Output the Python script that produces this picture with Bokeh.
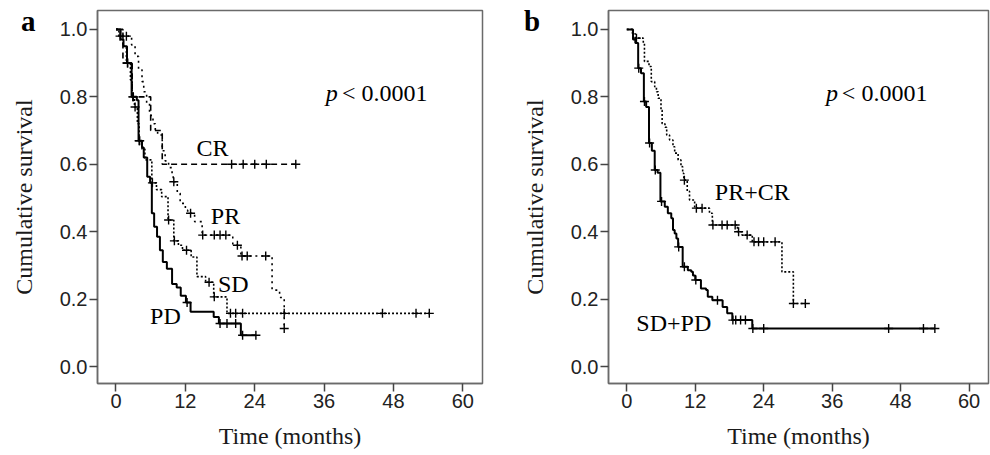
import numpy as np
from bokeh.plotting import figure
from bokeh.layouts import row
from bokeh.models import Label, FixedTicker, NumeralTickFormatter, Range1d, Div
from bokeh.embed import file_html
from bokeh.resources import INLINE

x_ticks = [0, 12, 24, 36, 48, 60]
y_ticks = [0.0, 0.2, 0.4, 0.6, 0.8, 1.0]
x_label = "Time (months)"
y_label = "Cumulative survival"
p_text = "< 0.0001"
panel_letters = ["a", "b"]

# ---------------- Panel a ----------------
cr_t = [0, 1.2, 2.8, 6.0, 8.0, 31.1]
cr_s = [1.0, 0.9, 0.8, 0.7, 0.6, 0.6]
cr_c = [20.0, 22.0, 24.0, 26.0, 31.1]

pr_t = [0, 1.2, 2.7, 3.3, 3.9, 4.5, 4.8, 5.3, 5.8, 6.4, 6.8, 7.2, 8.0, 8.5, 9.1, 9.7,
        9.9, 10.6, 11.1, 12.0, 12.4, 13.6, 14.9, 20.2, 21.6, 27.0, 28.3, 29.1, 29.1]
pr_s = [1.0, 0.98, 0.954, 0.92, 0.88, 0.845, 0.815, 0.78, 0.745, 0.72, 0.70, 0.687, 0.64,
        0.61, 0.59, 0.563, 0.548, 0.514, 0.484, 0.464, 0.455, 0.43, 0.39, 0.36, 0.328,
        0.227, 0.205, 0.113, 0.113]
pr_c = [1.8, 10.0, 12.9, 15.0, 17.0, 18.0, 19.0, 21.0, 21.8, 22.7, 25.9, 29.1]

sd_t = [0, 0.5, 1.2, 1.8, 2.5, 2.8, 3.2, 3.7, 4.0, 4.5, 5.0, 6.2, 7.0, 7.9, 9.0, 10.0,
        10.8, 11.5, 13.0, 14.0, 15.5, 16.9, 19.2, 54.2]
sd_s = [1.0, 0.98, 0.95, 0.90, 0.85, 0.80, 0.77, 0.72, 0.67, 0.645, 0.613, 0.545, 0.525,
        0.504, 0.435, 0.373, 0.36, 0.345, 0.325, 0.267, 0.25, 0.207, 0.158, 0.158]
sd_c = [0.7, 2.0, 3.0, 3.3, 4.1, 6.3, 9.1, 10.1, 12.2, 16.1, 17.0, 19.8, 20.7, 21.9,
        29.1, 46.1, 51.9, 54.2]

pd_t = [0, 0.8, 1.3, 1.9, 2.7, 3.6, 3.9, 4.5, 4.8, 5.4, 5.9, 6.2, 6.6, 7.1, 7.6, 8.1,
        8.8, 9.7, 10.5, 11.2, 12.1, 12.9, 16.9, 17.8, 21.6, 24.2]
pd_s = [1.0, 0.97, 0.95, 0.90, 0.80, 0.79, 0.67, 0.65, 0.62, 0.563, 0.545, 0.455, 0.415,
        0.385, 0.345, 0.31, 0.29, 0.245, 0.235, 0.21, 0.19, 0.163, 0.147, 0.128, 0.093, 0.093]
pd_c = [2.0, 2.9, 4.0, 12.3, 18.0, 19.2, 20.7, 21.9, 24.2]

# ---------------- Panel b ----------------
prcr_t = [0, 1.0, 1.5, 2.9, 3.1, 3.9, 4.3, 4.9, 5.2, 5.5, 6.0, 6.2, 6.7, 7.0, 7.5, 8.1,
          8.4, 9.0, 9.5, 9.8, 10.0, 10.6, 11.0, 11.9, 14.5, 15.0, 19.4, 20.2, 22.0, 27.2,
          29.2, 31.3]
prcr_s = [1.0, 0.987, 0.974, 0.96, 0.905, 0.89, 0.845, 0.83, 0.815, 0.796, 0.76, 0.72,
          0.71, 0.687, 0.672, 0.652, 0.633, 0.613, 0.593, 0.573, 0.553, 0.52, 0.494, 0.47,
          0.455, 0.42, 0.40, 0.39, 0.37, 0.281, 0.187, 0.187]
prcr_c = [1.7, 10.1, 12.2, 13.2, 15.1, 16.7, 17.6, 19.0, 19.6, 21.1, 22.3, 23.1, 24.0,
          26.0, 29.2, 31.3]

sdpd_t = [0, 1.1, 1.5, 2.0, 2.5, 3.0, 3.4, 3.9, 4.4, 4.9, 5.4, 5.9, 6.66, 7.2, 7.8, 8.1,
          8.4, 8.7, 9.0, 9.8, 10.7, 11.3, 11.6, 12.0, 13.0, 13.9, 14.2, 15.0, 16.8, 17.6,
          18.5, 22.0, 54.0]
sdpd_s = [1.0, 0.97, 0.96, 0.885, 0.87, 0.786, 0.77, 0.663, 0.64, 0.583, 0.575, 0.49,
          0.474, 0.455, 0.44, 0.405, 0.395, 0.38, 0.355, 0.296, 0.286, 0.281, 0.27, 0.257,
          0.232, 0.227, 0.207, 0.197, 0.177, 0.158, 0.138, 0.113, 0.113]
sdpd_c = [2.1, 3.1, 4.0, 5.0, 6.1, 9.1, 10.1, 12.1, 15.9, 18.6, 19.1, 19.95, 20.8, 22.1,
          24.0, 45.9, 52.0, 54.0]

SERIF = "Liberation Serif"
SANS = "Liberation Sans"


def surv_at(times, surv, c):
    t = np.asarray(times, float)
    s = np.asarray(surv, float)
    idx = np.searchsorted(t, np.asarray(c, float), side="right") - 1
    return s[idx]


def make_fig(width, border_left, border_right):
    p = figure(width=width, height=455, output_backend="svg", toolbar_location=None,
               x_range=Range1d(-3.2, 63.4), y_range=Range1d(-0.05, 1.056),
               min_border_left=border_left, min_border_right=border_right,
               min_border_top=10, min_border_bottom=72)
    p.xgrid.visible = False
    p.ygrid.visible = False
    p.outline_line_color = "#6a6a6a"
    p.outline_line_width = 1.5
    p.background_fill_color = "white"
    p.border_fill_color = None
    p.xaxis.ticker = FixedTicker(ticks=x_ticks)
    p.yaxis.ticker = FixedTicker(ticks=y_ticks)
    p.yaxis.formatter = NumeralTickFormatter(format="0.0")
    for ax in (p.xaxis, p.yaxis):
        ax.axis_line_color = "#6a6a6a"
        ax.axis_line_width = 1.5
        ax.major_tick_line_color = "#444444"
        ax.major_tick_line_width = 1.5
        ax.major_tick_out = 8
        ax.major_tick_in = 0
        ax.minor_tick_line_color = None
        ax.major_label_text_font = SANS
        ax.major_label_text_font_size = "20px"
        ax.major_label_text_color = "#222222"
        ax.major_label_standoff = 2
        ax.axis_label_text_font = SERIF
        ax.axis_label_text_font_size = "24px"
        ax.axis_label_text_font_style = "normal"
        ax.axis_label_text_color = "#1a1a1a"
    p.xaxis.axis_label = x_label
    p.yaxis.axis_label = y_label
    p.xaxis.axis_label_standoff = 12
    p.yaxis.axis_label_standoff = 20
    return p


def curve(p, t, s, c, width, dash):
    p.step(x=t, y=s, mode="after", line_color="black", line_width=width, line_dash=dash)
    p.scatter(x=c, y=surv_at(t, s, c), marker="cross", size=9,
              line_color="black", line_width=1.4)


def txt(p, x, y, text, size="24px", style="normal", align="center", baseline="middle"):
    p.add_layout(Label(x=x, y=y, text=text, text_font=SERIF, text_font_size=size,
                       text_font_style=style, text_align=align, text_baseline=baseline,
                       text_color="black"))


def letter(text, left):
    html = ('<span style="position:relative; display:inline-block; left:%dpx; top:5px; '
            'font: bold 29px \'Liberation Serif\'; color:black; white-space:nowrap; '
            'line-height:32px;">%s</span>' % (left, text))
    return Div(text=html, width=0, height=0, margin=0,
               styles={"overflow": "visible", "position": "relative", "z-index": "5"})


# Panel a
pa = make_fig(518, 97, 36)
curve(pa, sd_t, sd_s, sd_c, 1.6, "2 2")
curve(pa, pr_t, pr_s, pr_c, 1.6, "2 4")
curve(pa, cr_t, cr_s, cr_c, 1.6, "6 4")
curve(pa, pd_t, pd_s, pd_c, 2.0, "solid")
txt(pa, 16.7, 0.647, "CR")
txt(pa, 18.95, 0.448, "PR")
txt(pa, 20.3, 0.246, "SD")
txt(pa, 8.55, 0.151, "PD")
txt(pa, 36.3, 0.8125, "p", style="italic", align="left", baseline="alphabetic")
txt(pa, 39.1, 0.8125, p_text, align="left", baseline="alphabetic")

# Panel b
pb = make_fig(472, 87, 2)
curve(pb, prcr_t, prcr_s, prcr_c, 1.6, "2 2")
curve(pb, sdpd_t, sdpd_s, sdpd_c, 2.0, "solid")
txt(pb, 22.0, 0.519, "PR+CR")
txt(pb, 8.24, 0.128, "SD+PD")
txt(pb, 34.9, 0.8125, "p", style="italic", align="left", baseline="alphabetic")
txt(pb, 37.7, 0.8125, p_text, align="left", baseline="alphabetic")

layout = row(letter(panel_letters[0], 21), pa, letter(panel_letters[1], 6), pb)
open("out.html", "w").write(file_html(layout, INLINE))
